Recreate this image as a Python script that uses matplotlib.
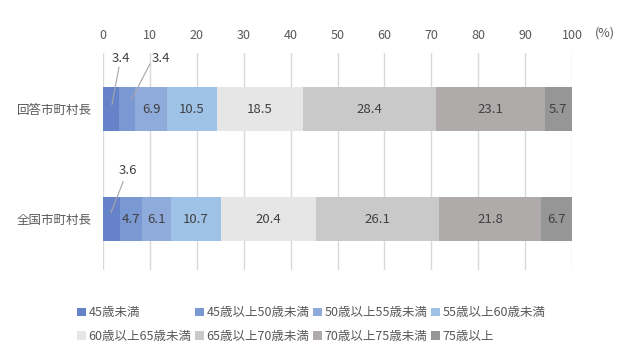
import numpy as np
import matplotlib.pyplot as plt
from matplotlib.patches import Patch

plt.rcParams['font.family'] = ['Noto Sans CJK JP', 'DejaVu Sans']

groups = ["回答市町村長", "全国市町村長"]
age_bands = ["45歳未満", "45歳以上50歳未満", "50歳以上55歳未満", "55歳以上60歳未満",
             "60歳以上65歳未満", "65歳以上70歳未満", "70歳以上75歳未満", "75歳以上"]
answered = [3.4, 3.4, 6.9, 10.5, 18.5, 28.4, 23.1, 5.7]
national = [3.6, 4.7, 6.1, 10.7, 20.4, 26.1, 21.8, 6.7]
x_ticks = [0, 10, 20, 30, 40, 50, 60, 70, 80, 90, 100]

colors = ["#6682C9", "#7A98D2", "#8FABDC", "#9EC3E6",
          "#E6E6E6", "#C9C9C9", "#AFABAB", "#969696"]

# segments too narrow for an inside label get a callout: (row, segment, text pos, line start, line end)
callouts = [
    (0, 0, (3.8, -0.46), (3.4, -0.38), (1.9, -0.04)),
    (0, 1, (12.4, -0.46), (10.0, -0.41), (6.0, -0.08)),
    (1, 0, (5.3, 0.555), (4.3, 0.66), (1.7, 0.94)),
]

fig = plt.figure(figsize=(6.27, 3.49), dpi=100)
ax = fig.add_axes([0.1643, 0.226, 0.748, 0.622])

data = np.array([answered, national])
left = np.zeros(len(groups))
ypos = np.arange(len(groups))
outside = {(r, s) for r, s, *_ in callouts}
for j, band in enumerate(age_bands):
    vals = data[:, j]
    ax.barh(ypos, vals, left=left, height=0.4, color=colors[j], zorder=3, label=band)
    for i, v in enumerate(vals):
        if (i, j) not in outside:
            ax.text(left[i] + v / 2, ypos[i], f"{v:.1f}", ha='center', va='center',
                    fontsize=9.5, color='#404040', zorder=4)
    left += vals

for r, s, tpos, p0, p1 in callouts:
    ax.text(tpos[0], tpos[1], f"{data[r, s]:.1f}", ha='center', va='center',
            fontsize=9.5, color='#404040', zorder=4)
    ax.plot([p0[0], p1[0]], [p0[1], p1[1]], color='#A6A6A6', lw=0.8, zorder=5)

ax.set_xlim(0, 100)
ax.set_ylim(1.464, -0.509)
ax.set_xticks(x_ticks)
ax.xaxis.tick_top()
ax.tick_params(axis='x', length=0, labelsize=9, labelcolor='#595959', pad=8)
ax.set_yticks(ypos)
ax.set_yticklabels(groups)
ax.tick_params(axis='y', length=0, labelsize=9, labelcolor='#595959', pad=8)
ax.grid(axis='x', color='#D9D9D9', lw=1, zorder=0)
for sp in ax.spines.values():
    sp.set_visible(False)

fig.text(605 / 627, 1 - 33 / 349, "(%)", ha='center', va='center', fontsize=9, color='#595959')

handles = [Patch(facecolor=c) for c in colors]
order = [0, 4, 1, 5, 2, 6, 3, 7]
fig.legend([handles[k] for k in order], [age_bands[k] for k in order], ncol=4,
           loc='center left', bbox_to_anchor=(0.105, 0.07), frameon=False,
           fontsize=9, labelcolor='#595959', handlelength=0.7, handleheight=0.7,
           handletextpad=0.2, columnspacing=0.3, labelspacing=0.85)

fig.savefig("out.png", dpi=100)
